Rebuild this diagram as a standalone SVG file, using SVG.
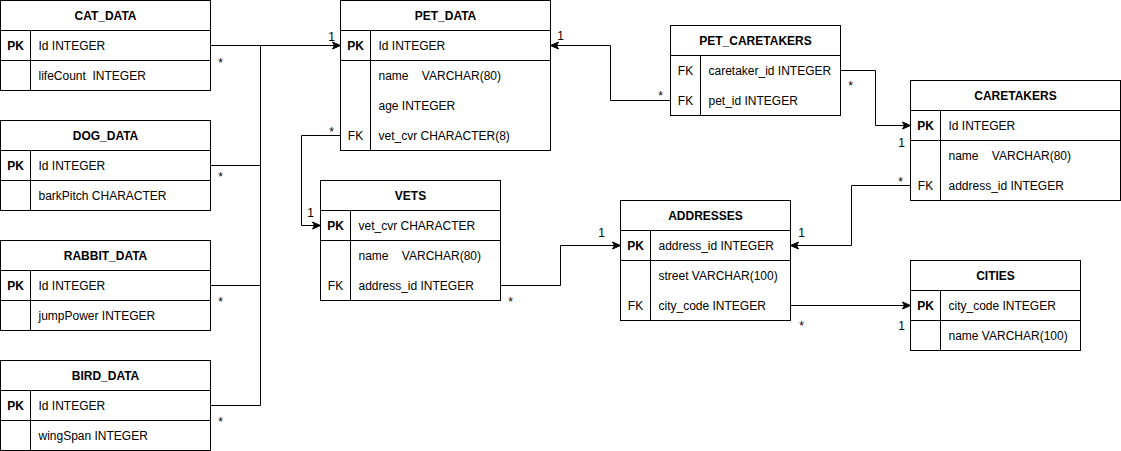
<svg xmlns="http://www.w3.org/2000/svg" width="1121" height="451" viewBox="0 0 1121 451">
<style>
.box{fill:#fff;stroke:#000;stroke-width:1}
.ln{stroke:#000;stroke-width:1;fill:none}
.h{font-family:"Liberation Sans",Arial,sans-serif;font-size:12px;font-weight:bold;text-anchor:middle;fill:#000}
.k{font-family:"Liberation Sans",Arial,sans-serif;font-size:12px;text-anchor:middle;fill:#000}
.kb{font-weight:bold}
.t{font-family:"Liberation Sans",Arial,sans-serif;font-size:12px;fill:#000;white-space:pre}
.lbl{font-family:"Liberation Sans",Arial,sans-serif;font-size:12px;text-anchor:middle;fill:#000}
.conn{stroke:#000;stroke-width:1;fill:none;marker-end:url(#arr)}
.seg{stroke:#000;stroke-width:1;fill:none}
</style>
<defs>
<marker id="arr" markerUnits="userSpaceOnUse" markerWidth="10" markerHeight="10" viewBox="0 0 10 10" refX="9" refY="5" orient="auto">
<path d="M1,1.5 L9,5 L1,8.5 L3,5 Z" fill="#000" stroke="#000" stroke-width="1"/>
</marker>
</defs>
<g transform="translate(0.5,0.5)">
<g id="CAT_DATA">
<rect class="box" x="0" y="0" width="210" height="90"/>
<path class="ln" d="M0,30H210M0,60H210M30,30V90"/>
<text class="h" x="105" y="19">CAT_DATA</text>
<text class="k kb" x="15" y="49">PK</text>
<text class="t" x="38" y="49">Id INTEGER</text>
<text class="t" x="38" y="79">lifeCount  INTEGER</text>
</g>
<g id="DOG_DATA">
<rect class="box" x="0" y="120" width="210" height="90"/>
<path class="ln" d="M0,150H210M0,180H210M30,150V210"/>
<text class="h" x="105" y="139">DOG_DATA</text>
<text class="k kb" x="15" y="169">PK</text>
<text class="t" x="38" y="169">Id INTEGER</text>
<text class="t" x="38" y="199">barkPitch CHARACTER</text>
</g>
<g id="RABBIT_DATA">
<rect class="box" x="0" y="240" width="210" height="90"/>
<path class="ln" d="M0,270H210M0,300H210M30,270V330"/>
<text class="h" x="105" y="259">RABBIT_DATA</text>
<text class="k kb" x="15" y="289">PK</text>
<text class="t" x="38" y="289">Id INTEGER</text>
<text class="t" x="38" y="319">jumpPower INTEGER</text>
</g>
<g id="BIRD_DATA">
<rect class="box" x="0" y="360" width="210" height="90"/>
<path class="ln" d="M0,390H210M0,420H210M30,390V450"/>
<text class="h" x="105" y="379">BIRD_DATA</text>
<text class="k kb" x="15" y="409">PK</text>
<text class="t" x="38" y="409">Id INTEGER</text>
<text class="t" x="38" y="439">wingSpan INTEGER</text>
</g>
<g id="PET_DATA">
<rect class="box" x="340" y="0" width="210" height="150"/>
<path class="ln" d="M340,30H550M340,60H550M370,30V150"/>
<text class="h" x="445" y="19">PET_DATA</text>
<text class="k kb" x="355" y="49">PK</text>
<text class="t" x="378" y="49">Id INTEGER</text>
<text class="t" x="378" y="79">name    VARCHAR(80)</text>
<text class="t" x="378" y="109">age INTEGER</text>
<text class="k" x="355" y="139">FK</text>
<text class="t" x="378" y="139">vet_cvr CHARACTER(8)</text>
</g>
<g id="PET_CARETAKERS">
<rect class="box" x="670" y="25" width="170" height="90"/>
<path class="ln" d="M670,55H840M700,55V115"/>
<text class="h" x="755" y="44">PET_CARETAKERS</text>
<text class="k" x="685" y="74">FK</text>
<text class="t" x="708" y="74">caretaker_id INTEGER</text>
<text class="k" x="685" y="104">FK</text>
<text class="t" x="708" y="104">pet_id INTEGER</text>
</g>
<g id="CARETAKERS">
<rect class="box" x="910" y="80" width="210" height="120"/>
<path class="ln" d="M910,110H1120M910,140H1120M940,110V200"/>
<text class="h" x="1015" y="99">CARETAKERS</text>
<text class="k kb" x="925" y="129">PK</text>
<text class="t" x="948" y="129">Id INTEGER</text>
<text class="t" x="948" y="159">name    VARCHAR(80)</text>
<text class="k" x="925" y="189">FK</text>
<text class="t" x="948" y="189">address_id INTEGER</text>
</g>
<g id="VETS">
<rect class="box" x="320" y="180" width="180" height="120"/>
<path class="ln" d="M320,210H500M320,240H500M350,210V300"/>
<text class="h" x="410" y="199">VETS</text>
<text class="k kb" x="335" y="229">PK</text>
<text class="t" x="358" y="229">vet_cvr CHARACTER</text>
<text class="t" x="358" y="259">name    VARCHAR(80)</text>
<text class="k" x="335" y="289">FK</text>
<text class="t" x="358" y="289">address_id INTEGER</text>
</g>
<g id="ADDRESSES">
<rect class="box" x="620" y="200" width="170" height="120"/>
<path class="ln" d="M620,230H790M620,260H790M650,230V320"/>
<text class="h" x="705" y="219">ADDRESSES</text>
<text class="k kb" x="635" y="249">PK</text>
<text class="t" x="658" y="249">address_id INTEGER</text>
<text class="t" x="658" y="279">street VARCHAR(100)</text>
<text class="k" x="635" y="309">FK</text>
<text class="t" x="658" y="309">city_code INTEGER</text>
</g>
<g id="CITIES">
<rect class="box" x="910" y="260" width="170" height="90"/>
<path class="ln" d="M910,290H1080M910,320H1080M940,290V350"/>
<text class="h" x="995" y="279">CITIES</text>
<text class="k kb" x="925" y="309">PK</text>
<text class="t" x="948" y="309">city_code INTEGER</text>
<text class="t" x="948" y="339">name VARCHAR(100)</text>
</g>
<g id="connectors">
<path class="conn" d="M210,45H340"/>
<path class="seg" d="M260,45V405"/>
<path class="seg" d="M210,165H260"/>
<path class="seg" d="M210,285H260"/>
<path class="seg" d="M210,405H260"/>
<path class="conn" d="M340,135H301V225H320"/>
<path class="conn" d="M670,100H610V45H550"/>
<path class="conn" d="M840,70H875V125H910"/>
<path class="conn" d="M910,185H851V245H790"/>
<path class="conn" d="M500,285H560V245H620"/>
<path class="conn" d="M790,305H910"/>
<text class="lbl" x="220" y="66">*</text>
<text class="lbl" x="331" y="40">1</text>
<text class="lbl" x="220" y="180">*</text>
<text class="lbl" x="220" y="305">*</text>
<text class="lbl" x="220" y="425">*</text>
<text class="lbl" x="331" y="135">*</text>
<text class="lbl" x="310" y="216">1</text>
<text class="lbl" x="560" y="39">1</text>
<text class="lbl" x="660" y="99">*</text>
<text class="lbl" x="850" y="89">*</text>
<text class="lbl" x="901" y="146">1</text>
<text class="lbl" x="900" y="185">*</text>
<text class="lbl" x="801" y="236">1</text>
<text class="lbl" x="601" y="236">1</text>
<text class="lbl" x="510" y="305">*</text>
<text class="lbl" x="801" y="329">*</text>
<text class="lbl" x="901" y="329">1</text>
</g>
</g>
</svg>
